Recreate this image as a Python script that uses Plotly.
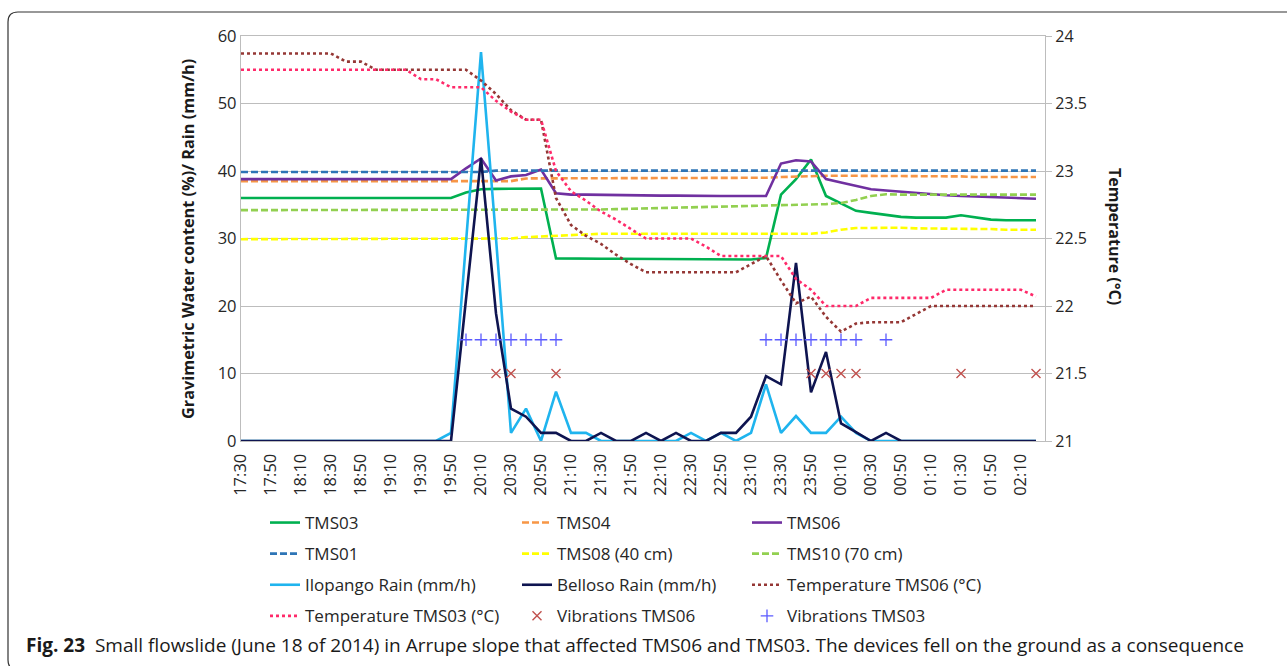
import plotly.graph_objects as go

times = ["17:30","17:40","17:50","18:00","18:10","18:20","18:30","18:40","18:50","19:00",
         "19:10","19:20","19:30","19:40","19:50","20:00","20:10","20:20","20:30","20:40",
         "20:50","21:00","21:10","21:20","21:30","21:40","21:50","22:00","22:10","22:20",
         "22:30","22:40","22:50","23:00","23:10","23:20","23:30","23:40","23:50","00:00",
         "00:10","00:20","00:30","00:40","00:50","01:00","01:10","01:20","01:30","01:40",
         "01:50","02:00","02:10","02:20"]

tms03 = [36.0]*15 + [36.8, 37.3, 37.35, 37.4, 37.4, 37.4, 27.05, 27.0, 27.0, 27.0,
         27.0, 27.0, 26.95, 26.95, 26.95, 26.95, 26.9, 26.9, 26.9, 26.9, 27.1, 36.5, 38.8,
         41.7, 36.3, 35.2, 34.1, 33.8, 33.5, 33.2, 33.1, 33.1, 33.1, 33.45, 33.1, 32.8,
         32.7, 32.7, 32.7]
tms04 = [38.5]*19 + [38.9]*16 + [39.0, 39.1, 39.2] + [39.3]*7 + [39.2]*4 + [39.1]*5
tms06 = [38.8]*15 + [40.4, 41.85, 38.6, 39.2, 39.4, 40.2, 36.7, 36.5, 36.5, 36.45,
         36.4, 36.4, 36.4, 36.35, 36.35, 36.3, 36.3, 36.3, 36.3, 36.3, 36.3, 41.1, 41.6,
         41.4, 38.8, 38.3, 37.8, 37.3, 37.1, 36.9, 36.8, 36.6, 36.4, 36.3, 36.2, 36.1,
         36.0, 36.0, 35.9]
tms01 = [39.85]*17 + [40.05]*37
tms08 = [29.9]*18 + [30.0, 30.2, 30.3, 30.4, 30.5] + [30.7]*16 + [30.9, 31.3, 31.55,
         31.6, 31.6, 31.6, 31.5, 31.5, 31.5, 31.4, 31.4, 31.4, 31.3, 31.3, 31.3]
tms10 = [34.2]*23 + [34.25, 34.3, 34.35, 34.4, 34.45, 34.5, 34.55, 34.6, 34.65, 34.7,
         34.75, 34.8, 34.9, 34.95, 35.0, 35.0, 35.1, 35.25, 35.7, 36.3, 36.55] + [36.5]*10
ilopango = [0]*14 + [1.2, 29.4, 57.6, 30.0, 1.2, 4.8, 0, 7.3, 1.2, 1.2, 0, 0, 0, 0, 0,
            0, 1.2, 0, 1.2, 0, 1.2, 8.4, 1.2, 3.7, 1.2, 1.2, 3.6, 1.2] + [0]*12
belloso = [0]*15 + [21.0, 41.9, 18.9, 4.8, 3.6, 1.2, 1.2, 0, 0, 1.2, 0, 0, 1.2, 0, 1.2,
           0, 0, 1.2, 1.2, 3.6, 9.6, 8.4, 26.4, 7.2, 13.2, 2.6, 1.3, 0, 1.2] + [0]*10
temp06 = [23.87]*7 + [23.81]*2 + [23.75]*7 + [23.67, 23.57, 23.45, 23.38, 23.38, 22.8,
          22.6, 22.52, 22.46, 22.38, 22.31] + [22.25]*7 + [22.31, 22.37, 22.19, 22.02,
          22.07, 21.92, 21.81, 21.87, 21.88, 21.88, 21.88, 21.94] + [22.0]*8
temp03 = [23.75]*12 + [23.68]*2 + [23.62]*3 + [23.52, 23.44, 23.38, 23.38, 23.0, 22.85,
          22.78, 22.7, 22.64, 22.57, 22.5, 22.5, 22.5, 22.5, 22.44] + [22.37]*5 + [22.2,
          22.12, 22.0, 22.0, 22.0] + [22.06]*5 + [22.12]*6 + [22.07]
vib06_times = ["20:20","20:30","21:00","23:50","00:00","00:10","00:20","01:30","02:20"]
vib06_vals = [10, 10, 10, 10, 10, 10, 10, 10, 10]
vib03_times = ["20:00","20:10","20:20","20:30","20:40","20:50","21:00","23:20","23:30",
               "23:40","23:50","00:00","00:10","00:20","00:40"]
vib03_vals = [15, 15, 15, 15, 15, 15, 15, 15, 15, 15, 15, 15, 15, 15, 15]

W, H = 1287, 666
L, R, T, B = 241, 1045, 36, 441
def px(v): return (v - L) / (R - L)
def py(v): return (B - v) / (B - T)

FONT = "Open Sans"
GRID = "#BDBDBD"
TXT = "#262626"

fig = go.Figure()

def add_line(name, y, color, dash, legend, yaxis="y", width=2.6):
    fig.add_trace(go.Scatter(x=times, y=y, name=name, mode="lines",
                             line=dict(color=color, width=width, dash=dash),
                             legend=legend, legendgroup=name, yaxis=yaxis))

add_line("TMS03", tms03, "#00B050", "solid", "legend")
add_line("TMS04", tms04, "#F79646", "7px,3px", "legend2")
add_line("TMS06", tms06, "#7030A0", "solid", "legend3")
add_line("TMS01", tms01, "#2E75B6", "7px,3px", "legend")
add_line("TMS08 (40 cm)", tms08, "#FFFF00", "7px,3px", "legend2")
add_line("TMS10 (70 cm)", tms10, "#92D050", "7px,3px", "legend3")
add_line("Ilopango Rain (mm/h)", ilopango, "#1FB4EE", "solid", "legend")
add_line("Belloso Rain (mm/h)", belloso, "#0E1450", "solid", "legend2")
add_line("Temperature TMS06 (°C)", temp06, "#953735", "dot", "legend3", yaxis="y2")
add_line("Temperature TMS03 (°C)", temp03, "#FF2A6A", "dot", "legend", yaxis="y2")

fig.add_trace(go.Scatter(x=vib06_times, y=vib06_vals, name="Vibrations TMS06", mode="markers",
                         marker=dict(symbol="x-thin", size=9, color="#C0504D",
                                     line=dict(color="#C0504D", width=1.4)),
                         legend="legend2", legendgroup="Vibrations TMS06"))
fig.add_trace(go.Scatter(x=vib03_times, y=vib03_vals, name="Vibrations TMS03", mode="markers",
                         marker=dict(symbol="cross-thin", size=9, color="#5B5BFF",
                                     line=dict(color="#5B5BFF", width=1.3)),
                         legend="legend3", legendgroup="Vibrations TMS03"))

leg_common = dict(orientation="v", xanchor="left", yanchor="top", bgcolor="rgba(0,0,0,0)",
                  font=dict(family=FONT, size=17, color=TXT), tracegroupgap=6,
                  itemwidth=30)
fig.update_layout(
    width=W, height=H,
    margin=dict(l=L, r=W - R, t=T, b=H - B),
    paper_bgcolor="white", plot_bgcolor="white",
    font=dict(family=FONT, size=16, color=TXT),
    showlegend=True,
    legend=dict(x=px(265), y=py(505), **leg_common),
    legend2=dict(x=px(517), y=py(505), **leg_common),
    legend3=dict(x=px(747), y=py(505), **leg_common),
    xaxis=dict(type="category", range=[0, 53.6], tickmode="array",
               tickvals=times[::2], ticktext=times[::2], tickangle=-90,
               showgrid=False, showline=True, mirror=True, linecolor=GRID, linewidth=1.3,
               ticks="", ticklabelstandoff=5,
               tickfont=dict(family=FONT, size=16.5, color=TXT)),
    yaxis=dict(range=[0, 60], dtick=10, showgrid=True, gridcolor=GRID, gridwidth=1.3,
               showline=True, linecolor=GRID, linewidth=1.3, zeroline=False, ticks="",
               tickfont=dict(family=FONT, size=16.5, color=TXT)),
    yaxis2=dict(range=[21, 24], dtick=0.5, overlaying="y", side="right", showgrid=False,
                showline=True, linecolor=GRID, linewidth=1.3, zeroline=False,
                ticks="outside", ticklen=6, tickcolor=GRID, tickwidth=1.3,
                tickfont=dict(family=FONT, size=16, color=TXT)),
    annotations=[
        dict(text="<b>Gravimetric Water content (%)/ Rain (mm/h)</b>", xref="paper", yref="paper",
             x=px(188), y=py(239), textangle=-90, showarrow=False,
             font=dict(family=FONT, size=16.3, color="#1a1a1a"), xanchor="center", yanchor="middle"),
        dict(text="<b>Temperature (°C)</b>", xref="paper", yref="paper",
             x=px(1115), y=py(236), textangle=90, showarrow=False,
             font=dict(family=FONT, size=16, color="#1a1a1a"), xanchor="center", yanchor="middle"),
        dict(text="<b>Fig. 23</b>\u00a0\u00a0Small flowslide (June 18 of 2014) in Arrupe slope that affected TMS06 and TMS03. The devices fell on the ground as a consequence",
             xref="paper", yref="paper", x=px(24), y=py(645), showarrow=False,
             xanchor="left", yanchor="middle", font=dict(family=FONT, size=19, color="#1a1a1a")),
    ],
    shapes=[
        dict(type="path", xref="paper", yref="paper",
             path=(f"M {px(1300)} {py(12)} L {px(18)} {py(12)} Q {px(8)} {py(12)} {px(8)} {py(22)} "
                   f"L {px(8)} {py(660)} Q {px(8)} {py(670)} {px(18)} {py(670)} L {px(1300)} {py(670)}"),
             line=dict(color="#333333", width=1.2)),
    ],
)

fig.write_html("out.html")
